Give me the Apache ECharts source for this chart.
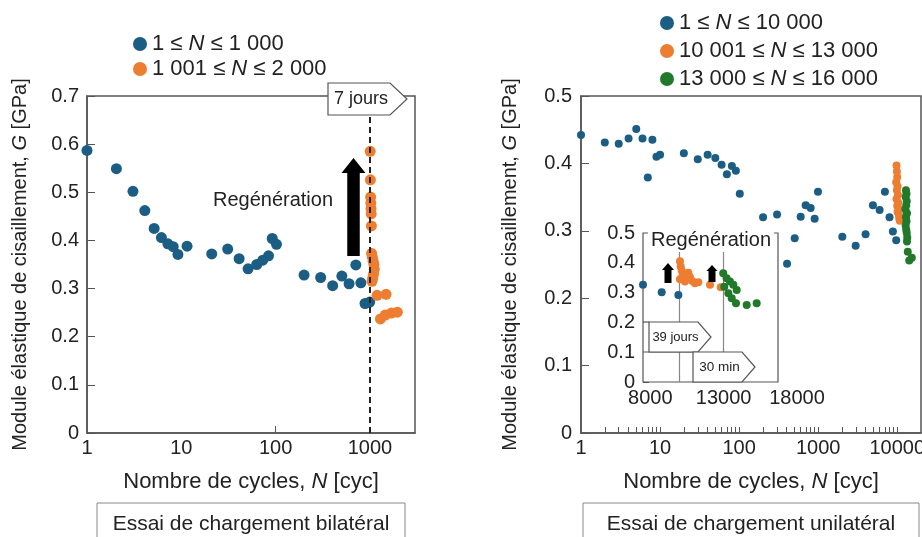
<!DOCTYPE html>
<html>
<head>
<meta charset="utf-8">
<script src="https://cdn.jsdelivr.net/npm/echarts@6.0.0/dist/echarts.min.js"></script>
<style>
  html, body { margin: 0; padding: 0; background: #fff; }
  #main { width: 922px; height: 537px; }
</style>
</head>
<body>
<div id="main"></div>
<script>
// essai bilatéral
const bilatLowN = [1, 2.05, 3.07, 4.1, 5.15, 6.15, 7.2, 8.2, 9.2, 11.5, 21, 31, 41, 51, 63, 73, 84, 92, 102, 200, 300, 402, 503, 600, 708, 800, 886, 993];
const bilatLowG = [0.587, 0.549, 0.502, 0.462, 0.425, 0.406, 0.393, 0.387, 0.371, 0.388, 0.372, 0.382, 0.362, 0.341, 0.35, 0.359, 0.368, 0.404, 0.392, 0.328, 0.323, 0.306, 0.326, 0.31, 0.349, 0.312, 0.269, 0.272];
const bilatHighN = [1005, 1010, 1015, 1020, 1025, 1030, 1035, 1040, 1060, 1080, 1100, 1110, 1090, 1070, 1050, 1190, 1480, 1290, 1450, 1690, 1950];
const bilatHighG = [0.585, 0.526, 0.49, 0.478, 0.466, 0.455, 0.43, 0.373, 0.365, 0.357, 0.35, 0.34, 0.33, 0.322, 0.315, 0.286, 0.288, 0.237, 0.245, 0.249, 0.251];

// essai unilatéral
const uniLowN = [1, 2, 3, 4, 5, 6, 7, 8, 9, 10, 20, 30, 40, 50, 60, 70, 81, 91, 102, 201, 302, 404, 505, 601, 695, 804, 903, 995, 2020, 2980, 3980, 4930, 5990, 6990, 8000, 8820, 9710];
const uniLowG = [0.442, 0.431, 0.429, 0.437, 0.451, 0.437, 0.379, 0.435, 0.41, 0.413, 0.415, 0.406, 0.413, 0.408, 0.398, 0.384, 0.396, 0.389, 0.355, 0.32, 0.324, 0.251, 0.289, 0.321, 0.338, 0.334, 0.318, 0.358, 0.291, 0.278, 0.295, 0.338, 0.331, 0.358, 0.32, 0.299, 0.286];
const uniMidN = [9800, 9900, 10000, 9700, 10100, 9900, 10200, 9800, 10300, 10000, 10400, 10100, 10500, 10600, 10700, 10800];
const uniMidG = [0.397, 0.388, 0.38, 0.372, 0.366, 0.36, 0.353, 0.347, 0.342, 0.337, 0.333, 0.328, 0.324, 0.32, 0.317, 0.315];
const uniHighN = [12900, 13100, 12800, 13200, 13000, 12700, 13300, 12900, 13100, 12800, 13000, 13200, 13400, 13300, 13600, 14200, 15300];
const uniHighG = [0.36, 0.355, 0.35, 0.344, 0.338, 0.332, 0.326, 0.32, 0.314, 0.308, 0.302, 0.297, 0.29, 0.284, 0.269, 0.256, 0.26];

// encart (échelle linéaire)
const insetLowN = [7500, 8775, 9910];
const insetLowG = [0.326, 0.301, 0.292];
const insetMidN = [10020, 10070, 10140, 10200, 10020, 10360, 10590, 10700, 10860, 11040, 11270, 12070, 12800];
const insetMidG = [0.405, 0.388, 0.374, 0.356, 0.345, 0.337, 0.367, 0.352, 0.339, 0.331, 0.335, 0.326, 0.318];
const insetHighN = [12970, 13200, 13430, 13040, 13660, 13890, 13320, 13550, 13840, 14570, 15250];
const insetHighG = [0.365, 0.348, 0.337, 0.32, 0.326, 0.309, 0.298, 0.281, 0.264, 0.258, 0.264];

const insetXLabels = [8000, 13000, 18000];
const insetMarks = [10000, 13000];
const uniMinorTicks = [2, 3, 4, 5, 6, 7, 8, 9, 10, 20, 30, 40, 50, 60, 70, 80, 90, 100, 200, 300, 400, 500, 600, 700, 800, 900, 1000, 2000, 3000, 4000, 5000, 6000, 7000, 8000, 9000, 10000];

const names = ['1 ≤ N ≤ 1 000', '1 001 ≤ N ≤ 2 000', '1 ≤ N ≤ 10 000', '10 001 ≤ N ≤ 13 000', '13 000 ≤ N ≤ 16 000'];

const BLUE = '#1b5d83', ORANGE = '#ed7d31', GREEN = '#217a29';
const FONT = '"Liberation Sans", Arial, sans-serif';
const AXIS = '#555', TXT = '#222';

function zip(a, b) { return a.map((v, i) => [v, b[i]]); }

const chart = echarts.init(document.getElementById('main'));

const axisText = { fontSize: 20, color: TXT, fontFamily: FONT };
const richName = {
  a: { fontSize: 22, color: TXT, fontFamily: FONT },
  i: { fontSize: 22, color: TXT, fontFamily: FONT, fontStyle: 'italic' }
};
const richYName = {
  a: { fontSize: 20, color: TXT, fontFamily: FONT },
  i: { fontSize: 20, color: TXT, fontFamily: FONT, fontStyle: 'italic' }
};
const logLabel = v => {
  const l = Math.log10(v);
  return Math.abs(l - Math.round(l)) < 1e-6 ? String(Math.round(v)) : '';
};

function legendOf(data, left, top, gap) {
  return {
    data: data, orient: 'vertical', left: left, top: top, itemGap: gap,
    itemWidth: 14, itemHeight: 14, icon: 'circle', selectedMode: false,
    formatter: n => n.replace('N', '{i|N}'),
    textStyle: {
      fontSize: 22, color: TXT, fontFamily: FONT,
      rich: { i: { fontSize: 22, color: TXT, fontFamily: FONT, fontStyle: 'italic' } }
    }
  };
}

function flag(x0, y0, x1, tip, y1, label, size) {
  const ym = (y0 + y1) / 2;
  return [
    { type: 'polygon', z: 50, shape: { points: [[x0, y0], [x1, y0], [tip, ym], [x1, y1], [x0, y1]] },
      style: { fill: '#fff', stroke: AXIS, lineWidth: 1.2 } },
    { type: 'text', z: 51, style: { text: label, x: (x0 + x1) / 2 + 2, y: ym, align: 'center', verticalAlign: 'middle', fontSize: size, fontFamily: FONT, fill: TXT } }
  ];
}

function arrow(cx, yTop, yBase, yBottom, shaftW, headW) {
  return { type: 'polygon', z: 50, shape: { points: [
    [cx - shaftW / 2, yBottom], [cx + shaftW / 2, yBottom], [cx + shaftW / 2, yBase], [cx + headW / 2, yBase],
    [cx, yTop], [cx - headW / 2, yBase], [cx - shaftW / 2, yBase]] }, style: { fill: '#000' } };
}

function dots(name, xi, size, color, n, g, extra) {
  return Object.assign({ type: 'scatter', name: name, xAxisIndex: xi, yAxisIndex: xi, clip: false,
    symbolSize: size, itemStyle: { color: color, opacity: 1 }, data: zip(n, g) }, extra || {});
}

const option = {
  animation: false,
  backgroundColor: '#fff',
  legend: [
    legendOf(names.slice(0, 2), 128, 28, 3),
    legendOf(names.slice(2), 655, 7, 6)
  ],
  grid: [
    { left: 87, top: 96, width: 328, height: 337, show: true, borderColor: AXIS, borderWidth: 1.5, containLabel: false, outerBoundsMode: 'none' },
    { left: 581, top: 96, width: 340, height: 337, show: true, borderColor: AXIS, borderWidth: 1.5, containLabel: false, outerBoundsMode: 'none' },
    { left: 643, top: 233, width: 154, height: 149, show: false, containLabel: false, outerBoundsMode: 'none' }
  ],
  xAxis: [
    { type: 'log', gridIndex: 0, min: 1, max: 3000, logBase: 10,
      axisLine: { lineStyle: { color: AXIS, width: 1.5 } },
      axisTick: { inside: true, length: 7, customValues: [100], lineStyle: { color: AXIS } },
      axisLabel: Object.assign({ margin: 5, formatter: logLabel, showMaxLabel: false }, axisText),
      splitLine: { show: false },
      name: '{a|Nombre de cycles, }{i|N}{a| [cyc]}', nameLocation: 'middle', nameGap: 38,
      nameTextStyle: { rich: richName } },
    { type: 'log', gridIndex: 1, min: 1, max: 20000, logBase: 10,
      axisLine: { lineStyle: { color: AXIS, width: 1.5 } },
      axisTick: { inside: true, length: 6, customValues: uniMinorTicks, lineStyle: { color: AXIS } },
      axisLabel: Object.assign({ margin: 5, formatter: logLabel, showMaxLabel: false }, axisText),
      splitLine: { show: false },
      name: '{a|Nombre de cycles, }{i|N}{a| [cyc]}', nameLocation: 'middle', nameGap: 38,
      nameTextStyle: { rich: richName } },
    { type: 'value', gridIndex: 2, min: 7500, max: 18000,
      axisLine: { show: false }, axisTick: { show: false },
      axisLabel: Object.assign({ margin: 6, customValues: insetXLabels, formatter: v => String(v) }, axisText),
      splitLine: { show: false } }
  ],
  yAxis: [
    { type: 'value', gridIndex: 0, min: 0, max: 0.7, interval: 0.1,
      axisLine: { lineStyle: { color: AXIS, width: 1.5 } },
      axisTick: { inside: true, length: 8, lineStyle: { color: AXIS } },
      axisLabel: Object.assign({ margin: 8 }, axisText),
      splitLine: { show: false },
      name: '{a|Module élastique de cisaillement, }{i|G}{a| [GPa]}', nameLocation: 'middle', nameGap: 57,
      nameTextStyle: { rich: richYName } },
    { type: 'value', gridIndex: 1, min: 0, max: 0.5, interval: 0.1,
      axisLine: { lineStyle: { color: AXIS, width: 1.5 } },
      axisTick: { inside: true, length: 8, lineStyle: { color: AXIS } },
      axisLabel: Object.assign({ margin: 9 }, axisText),
      splitLine: { show: false },
      name: '{a|Module élastique de cisaillement, }{i|G}{a| [GPa]}', nameLocation: 'middle', nameGap: 61,
      nameTextStyle: { rich: richYName } },
    { type: 'value', gridIndex: 2, min: 0, max: 0.5, interval: 0.1,
      axisLine: { show: false },
      axisTick: { inside: true, length: 6, lineStyle: { color: AXIS } },
      axisLabel: Object.assign({ margin: 8 }, axisText),
      splitLine: { show: false } }
  ],
  series: [
    dots(names[0], 0, 11, BLUE, bilatLowN, bilatLowG),
    dots(names[1], 0, 11, ORANGE, bilatHighN, bilatHighG, {
      markLine: { silent: true, symbol: 'none', label: { show: false }, z: 10,
        lineStyle: { color: '#222', type: [6, 4], width: 2 }, data: [{ xAxis: 1000 }] } }),
    dots(names[2], 1, 8, BLUE, uniLowN, uniLowG),
    dots(names[3], 1, 8, ORANGE, uniMidN, uniMidG),
    dots(names[4], 1, 8, GREEN, uniHighN, uniHighG),
    dots(names[2], 2, 8, BLUE, insetLowN, insetLowG, { z: 5,
      markLine: { silent: true, symbol: 'none', label: { show: false },
        lineStyle: { color: '#888', type: 'solid', width: 1.2 },
        data: insetMarks.map(v => ({ xAxis: v })) } }),
    dots(names[3], 2, 8, ORANGE, insetMidN, insetMidG, { z: 5 }),
    dots(names[4], 2, 8, GREEN, insetHighN, insetHighG, { z: 5 })
  ],
  graphic: [
    // encart
    { type: 'rect', z: 1, shape: { x: 643, y: 233, width: 135, height: 149 },
      style: { fill: '#fff', stroke: AXIS, lineWidth: 1.2 } },
    { type: 'text', z: 52, style: { text: 'Regénération', x: 711, y: 240, align: 'center', verticalAlign: 'middle',
      fontSize: 20, fontFamily: FONT, fill: TXT, backgroundColor: '#fff', padding: [2, 3] } },
    { type: 'polyline', z: 50, shape: { points: [[643, 322], [649, 322]] }, style: { stroke: AXIS, lineWidth: 1.2 } },
    { type: 'polyline', z: 50, shape: { points: [[643, 352], [693, 352]] }, style: { stroke: AXIS, lineWidth: 1.2 } },
    ...flag(649, 322, 698, 711, 352, '39 jours', 13),
    ...flag(693, 352, 742, 755, 382, '30 min', 13.5),
    arrow(668, 263, 270, 283, 7, 12),
    arrow(712, 265, 271, 282, 7, 11),
    // panneau gauche
    ...flag(328, 83, 390, 407, 115, '7 jours', 18),
    arrow(353.5, 158, 173, 256, 12.5, 24),
    { type: 'text', z: 50, style: { text: 'Regénération', x: 273, y: 200, align: 'center', verticalAlign: 'middle',
      fontSize: 20, fontFamily: FONT, fill: TXT } },
    // légendes du bas
    { type: 'rect', z: 50, shape: { x: 97, y: 503, width: 308, height: 40 }, style: { fill: 'none', stroke: '#888', lineWidth: 1 } },
    { type: 'text', z: 50, style: { text: 'Essai de chargement bilatéral', x: 251, y: 524, align: 'center', verticalAlign: 'middle',
      fontSize: 21, fontFamily: FONT, fill: TXT } },
    { type: 'rect', z: 50, shape: { x: 583, y: 503, width: 336, height: 40 }, style: { fill: 'none', stroke: '#888', lineWidth: 1 } },
    { type: 'text', z: 50, style: { text: 'Essai de chargement unilatéral', x: 751, y: 524, align: 'center', verticalAlign: 'middle',
      fontSize: 21, fontFamily: FONT, fill: TXT } }
  ]
};

chart.setOption(option);
</script>
</body>
</html>
